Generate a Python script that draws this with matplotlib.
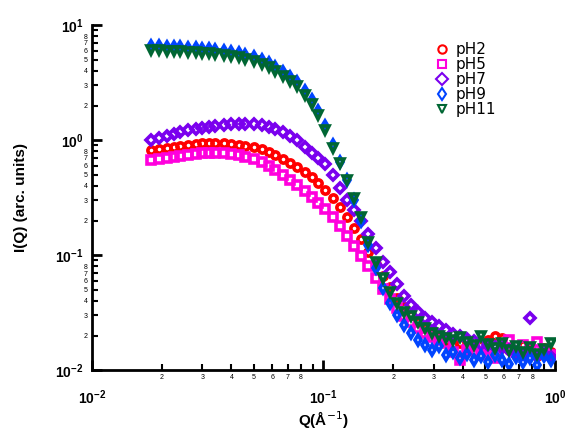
import math
import matplotlib
matplotlib.use('Agg')
import matplotlib.pyplot as plt
from matplotlib.ticker import LogLocator, LogFormatterSciNotation, FuncFormatter

plt.rcParams['font.family'] = ['Liberation Sans', 'DejaVu Sans']

# Q values (A^-1)
q = [0.018, 0.0195, 0.021, 0.0225, 0.024, 0.026, 0.028, 0.030, 0.032, 0.034,
     0.037, 0.040, 0.043, 0.046, 0.050, 0.054, 0.058, 0.062, 0.067, 0.072,
     0.077, 0.083, 0.089, 0.095, 0.102, 0.110, 0.118, 0.126, 0.135, 0.145,
     0.156, 0.168, 0.180, 0.193, 0.207, 0.222, 0.238, 0.255, 0.274, 0.294,
     0.315, 0.338, 0.362, 0.388, 0.416, 0.446, 0.478, 0.513, 0.550, 0.590,
     0.633, 0.679, 0.728, 0.781, 0.838, 0.899, 0.965]

ph2 = [0.818, 0.835, 0.852, 0.869, 0.887, 0.905, 0.923, 0.942, 0.942, 0.942,
       0.942, 0.923, 0.905, 0.887, 0.869, 0.835, 0.787, 0.741, 0.684, 0.631,
       0.582, 0.527, 0.477, 0.423, 0.367, 0.313, 0.261, 0.214, 0.172, 0.138,
       0.106, 0.0835, 0.0656, 0.0527, 0.0423, 0.0353, 0.0301, 0.0261, 0.0232, 0.0210,
       0.0194, 0.0179, 0.0165, 0.0172, 0.0155, 0.0143, 0.0165, 0.0182, 0.0198, 0.0190,
       0.0149, 0.0135, 0.0165, 0.0152, 0.0132, 0.0155, 0.0143]

ph5 = [0.670, 0.684, 0.697, 0.711, 0.726, 0.741, 0.756, 0.771, 0.771, 0.771,
       0.771, 0.756, 0.741, 0.711, 0.684, 0.644, 0.594, 0.548, 0.496, 0.449,
       0.406, 0.360, 0.319, 0.283, 0.251, 0.214, 0.179, 0.146, 0.120, 0.098,
       0.0802, 0.0631, 0.0506, 0.0414, 0.0346, 0.0295, 0.0261, 0.0232, 0.0210, 0.0194,
       0.0182, 0.0172, 0.0143, 0.0122, 0.0149, 0.0162, 0.0135, 0.0152, 0.0127, 0.0165,
       0.0182, 0.0143, 0.0165, 0.0155, 0.0175, 0.0149, 0.0135]

ph7 = [1.00, 1.04, 1.08, 1.13, 1.17, 1.22, 1.25, 1.27, 1.30, 1.32,
       1.35, 1.38, 1.38, 1.38, 1.38, 1.35, 1.30, 1.25, 1.17, 1.08,
       1.00, 0.869, 0.771, 0.697, 0.618, 0.496, 0.383, 0.301, 0.246, 0.198,
       0.152, 0.115, 0.0869, 0.0711, 0.0560, 0.0440, 0.0367, 0.0319, 0.0283, 0.0261,
       0.0241, 0.0223, 0.0206, 0.0198, 0.0186, 0.0179, 0.0168, 0.0165, 0.0158, 0.0155,
       0.0149, 0.0143, 0.0138, 0.0283, 0.0132, 0.0138, 0.0130]

ph9 = [6.57, 6.57, 6.44, 6.44, 6.44, 6.31, 6.31, 6.18, 6.18, 6.06,
       5.94, 5.82, 5.71, 5.49, 5.27, 4.96, 4.68, 4.31, 3.90, 3.53,
       3.19, 2.67, 2.23, 1.79, 1.32, 0.905, 0.644, 0.449, 0.301, 0.198,
       0.122, 0.0771, 0.0516, 0.0383, 0.0301, 0.0246, 0.0210, 0.0182, 0.0165, 0.0149,
       0.0162, 0.0135, 0.0143, 0.0127, 0.0138, 0.0122, 0.0132, 0.0117, 0.0135, 0.0122,
       0.0113, 0.0130, 0.0117, 0.0127, 0.0110, 0.0132, 0.0122]

ph11 = [6.06, 6.06, 5.94, 5.94, 5.94, 5.82, 5.82, 5.71, 5.71, 5.60,
        5.49, 5.37, 5.27, 5.06, 4.86, 4.58, 4.31, 3.98, 3.60, 3.26,
        2.95, 2.46, 2.06, 1.65, 1.22, 0.852, 0.631, 0.449, 0.313, 0.214,
        0.130, 0.0869, 0.0631, 0.0477, 0.0383, 0.0319, 0.0295, 0.0261, 0.0232, 0.0210,
        0.0198, 0.0190, 0.0182, 0.0194, 0.0175, 0.0165, 0.0198, 0.0168, 0.0155, 0.0172,
        0.0149, 0.0162, 0.0143, 0.0158, 0.0138, 0.0152, 0.0172]

series = [
    ('pH2', ph2, 'o', '#ff0000'),
    ('pH5', ph5, 's', '#ff00dd'),
    ('pH7', ph7, 'D', '#7a00ee'),
    ('pH9', ph9, 'd', '#0044ff'),
    ('pH11', ph11, 'v', '#006633'),
]

fig = plt.figure(figsize=(5.72, 4.34), dpi=100)
ax = fig.add_axes([0.161, 0.147, 0.809, 0.795])

for name, vals, mk, col in series:
    ax.plot(q, vals, linestyle='none', marker=mk, markersize=5.2,
            markerfacecolor='none', markeredgecolor=col, markeredgewidth=2.6,
            label=name)

ax.set_xscale('log')
ax.set_yscale('log')
ax.set_xlim(0.01, 1)
ax.set_ylim(0.01, 10)

for s in ['top', 'right']:
    ax.spines[s].set_visible(False)
for s in ['left', 'bottom']:
    ax.spines[s].set_linewidth(2)

ax.xaxis.set_major_locator(LogLocator(base=10, numticks=10))
ax.yaxis.set_major_locator(LogLocator(base=10, numticks=10))
ax.xaxis.set_minor_locator(LogLocator(base=10, subs=range(2, 10), numticks=20))
ax.yaxis.set_minor_locator(LogLocator(base=10, subs=range(2, 10), numticks=20))


def minor_lab(v, pos):
    m = round(v / 10 ** math.floor(math.log10(v) + 1e-9))
    return '' if m == 9 else '%d' % m


ax.xaxis.set_minor_formatter(FuncFormatter(minor_lab))
ax.yaxis.set_minor_formatter(FuncFormatter(minor_lab))
ax.xaxis.set_major_formatter(LogFormatterSciNotation())
ax.yaxis.set_major_formatter(LogFormatterSciNotation())

ax.tick_params(which='major', direction='in', length=7, width=2, labelsize=10)
ax.tick_params(axis='x', which='major', pad=13)
ax.tick_params(axis='y', which='major', pad=6)
ax.tick_params(which='minor', direction='in', length=4, width=1.5, labelsize=5, pad=3)
for lab in ax.get_xticklabels() + ax.get_yticklabels():
    lab.set_fontweight('bold')

ax.set_xlabel('Q(Å$^{-1}$)', fontsize=11, fontweight='bold', labelpad=2)
ax.set_ylabel('I(Q) (arc. units)', fontsize=11, fontweight='bold', labelpad=20)

leg = ax.legend(loc='upper left', bbox_to_anchor=(0.71, 0.99), frameon=False,
                prop={'family': 'DejaVu Sans', 'size': 11},
                handletextpad=0.4, labelspacing=0.0, handlelength=1.0)
for h in leg.legend_handles:
    h.set_markersize(6)
    h.set_markeredgewidth(1.5)

fig.savefig('out.png', dpi=100)
